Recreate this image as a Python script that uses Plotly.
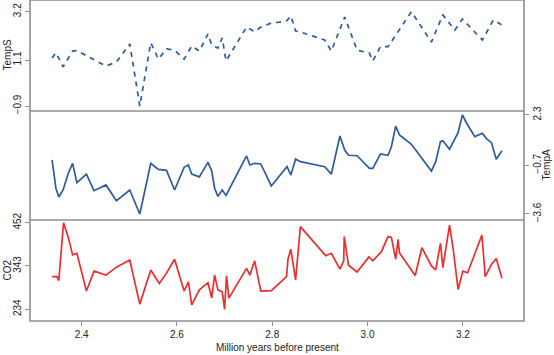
import plotly.graph_objects as go

# ---- data ----
time_S = [2.338, 2.346, 2.361, 2.381, 2.390, 2.451, 2.473, 2.501, 2.522, 2.545, 2.561, 2.578,
          2.595, 2.615, 2.631, 2.647, 2.665, 2.673, 2.686, 2.695, 2.703, 2.746, 2.763, 2.776,
          2.798, 2.816, 2.831, 2.839, 2.849, 2.859, 2.910, 2.924, 2.952, 2.978, 3.004, 3.011,
          3.027, 3.043, 3.092, 3.134, 3.158, 3.183, 3.199, 3.241, 3.264, 3.282]
temp_S = [1.19, 1.42, 0.80, 1.49, 1.51, 0.84, 1.01, 1.80, -0.90, 1.85, 1.14, 1.58,
          1.53, 1.14, 1.71, 1.49, 2.23, 1.75, 1.62, 2.06, 1.06, 2.53, 2.33, 2.53,
          2.71, 2.75, 2.82, 3.01, 2.36, 2.32, 1.97, 1.49, 2.97, 1.53, 1.40, 1.06,
          1.68, 1.68, 3.20, 1.88, 3.06, 2.40, 2.88, 1.97, 2.84, 2.62]

time_A = [2.338, 2.346, 2.352, 2.361, 2.372, 2.381, 2.390, 2.410, 2.426, 2.451, 2.473, 2.501,
          2.522, 2.545, 2.561, 2.578, 2.595, 2.615, 2.624, 2.631, 2.647, 2.665, 2.673, 2.679,
          2.686, 2.695, 2.703, 2.746, 2.753, 2.763, 2.776, 2.798, 2.831, 2.839, 2.849, 2.859,
          2.910, 2.924, 2.942, 2.952, 2.960, 2.978, 3.004, 3.011, 3.027, 3.043, 3.050, 3.059,
          3.067, 3.092, 3.134, 3.143, 3.153, 3.158, 3.172, 3.183, 3.190, 3.199, 3.208, 3.225,
          3.241, 3.249, 3.260, 3.270, 3.282]
temp_A = [-0.38, -2.07, -2.59, -2.17, -1.17, -0.58, -1.73, -1.22, -2.21, -1.87, -2.81, -2.17,
          -3.60, -0.58, -0.94, -1.00, -2.17, -0.82, -0.68, -1.22, -1.39, -0.52, -1.04, -2.07,
          -2.55, -2.17, -2.49, -0.14, -0.68, -0.58, -0.62, -1.93, -0.78, -1.28, -0.32, -0.48,
          -0.78, -1.22, 1.05, 0.21, -0.10, -0.13, -0.88, -0.88, -0.02, -0.10, 0.41, 1.64,
          1.11, 0.55, -1.04, -0.48, 0.71, 0.77, 0.26, 0.91, 1.25, 2.30, 1.81, 1.01,
          1.21, 0.91, 0.65, -0.34, 0.17]

time_C = [2.338, 2.348, 2.352, 2.362, 2.372, 2.381, 2.390, 2.410, 2.426, 2.451, 2.473, 2.501,
          2.522, 2.545, 2.563, 2.578, 2.595, 2.615, 2.624, 2.631, 2.647, 2.665, 2.673, 2.679,
          2.686, 2.695, 2.700, 2.704, 2.709, 2.746, 2.753, 2.763, 2.776, 2.798, 2.830, 2.833,
          2.839, 2.849, 2.859, 2.912, 2.924, 2.942, 2.950, 2.951, 2.960, 2.978, 3.003, 3.011,
          3.029, 3.043, 3.050, 3.059, 3.064, 3.067, 3.100, 3.114, 3.134, 3.143, 3.153, 3.158,
          3.172, 3.180, 3.190, 3.200, 3.210, 3.240, 3.247, 3.260, 3.270, 3.282]
co2 = [316, 316, 306, 452, 415, 371, 375, 280, 330, 320, 340, 358,
       247, 333, 299, 325, 360, 280, 303, 245, 283, 301, 263, 320,
       283, 278, 234, 318, 262, 337, 320, 356, 280, 281, 316, 360,
       385, 308, 442, 369, 375, 335, 356, 417, 345, 328, 366, 356,
       379, 417, 415, 360, 410, 376, 319, 389, 343, 333, 400, 339,
       446, 383, 284, 330, 326, 421, 316, 347, 362, 312]

x_ticks = [2.4, 2.6, 2.8, 3.0, 3.2]
x_ticktext = ["2.4", "2.6", "2.8", "3.0", "3.2"]
tempS_ticks = [-0.9, 1.1, 3.2]
tempS_ticktext = ["\u22120.9", "1.1", "3.2"]
tempA_ticks = [-3.6, -0.7, 2.3]
tempA_ticktext = ["\u22123.6", "\u22120.7", "2.3"]
co2_ticks = [234, 343, 452]
co2_ticktext = ["234", "343", "452"]

# ---- styling ----
W, H = 554, 355
ML, MR, MT, MB = 30, 30, 0, 34
plot_h = H - MT - MB
b1 = 1 - 111 / plot_h
b2 = 1 - 220 / plot_h
axis_col = "#8e8e8e"
font = dict(family="Liberation Sans, Arial, sans-serif", size=10, color="#222222")
blue = "#2d5b9f"
red = "#ee2d2d"

fig = go.Figure()
fig.add_trace(go.Scatter(x=time_S, y=temp_S, mode="lines", yaxis="y",
                         line=dict(color=blue, width=1.7, dash="5px,5px"), showlegend=False))
fig.add_trace(go.Scatter(x=time_A, y=temp_A, mode="lines", yaxis="y2",
                         line=dict(color=blue, width=1.7), showlegend=False))
fig.add_trace(go.Scatter(x=time_C, y=co2, mode="lines", yaxis="y3",
                         line=dict(color=red, width=1.7), showlegend=False))

yax_common = dict(showgrid=False, zeroline=False, showline=False, ticks="outside", ticklen=4,
                  tickwidth=1, tickcolor=axis_col, tickangle=-90, tickfont=font, automargin=False)

fig.update_layout(
    width=W, height=H,
    margin=dict(l=ML, r=MR, t=MT, b=MB),
    paper_bgcolor="white", plot_bgcolor="white",
    font=font,
    xaxis=dict(range=[2.2916, 3.3283], tickvals=x_ticks, ticktext=x_ticktext,
               showgrid=False, zeroline=False, showline=False, ticks="outside",
               ticklen=4, tickcolor=axis_col, tickfont=font, anchor="y3", automargin=False),
    yaxis=dict(domain=[b1, 1], range=[-1.117, 3.709], tickvals=tempS_ticks,
               ticktext=tempS_ticktext, side="left", anchor="x", **yax_common),
    yaxis2=dict(domain=[b2, b1], range=[-3.958, 2.538], tickvals=tempA_ticks,
                ticktext=tempA_ticktext, side="right", anchor="x", **yax_common),
    yaxis3=dict(domain=[0, b2], range=[204.5, 458.8], tickvals=co2_ticks,
                ticktext=co2_ticktext, side="left", anchor="x", **yax_common),
)

# frame and separators
lw = 1.6
fig.add_shape(type="rect", xref="paper", yref="paper", x0=0, x1=1, y0=0, y1=1,
              line=dict(color=axis_col, width=lw), layer="above")
for yb in (b1, b2):
    fig.add_shape(type="line", xref="paper", yref="paper", x0=0, x1=1, y0=yb, y1=yb,
                  line=dict(color=axis_col, width=lw), layer="above")

# axis titles
fig.add_annotation(text="TempS", xref="paper", yref="paper", x=-23 / (W - ML - MR),
                   y=(b1 + 1) / 2, textangle=-90, showarrow=False, font=font,
                   xanchor="center", yanchor="middle")
fig.add_annotation(text="CO2", xref="paper", yref="paper", x=-23 / (W - ML - MR),
                   y=b2 / 2, textangle=-90, showarrow=False, font=font,
                   xanchor="center", yanchor="middle")
fig.add_annotation(text="TempA", xref="paper", yref="paper", x=1 + 22 / (W - ML - MR),
                   y=(b1 + b2) / 2, textangle=-90, showarrow=False, font=font,
                   xanchor="center", yanchor="middle")
fig.add_annotation(text="Million years before present", xref="paper", yref="paper",
                   x=0.5, y=-27 / plot_h, showarrow=False, font=font,
                   xanchor="center", yanchor="middle")

fig.write_html("out.html", config={"displayModeBar": False},
               post_script="document.body.style.margin='0';document.body.style.padding='0';")
